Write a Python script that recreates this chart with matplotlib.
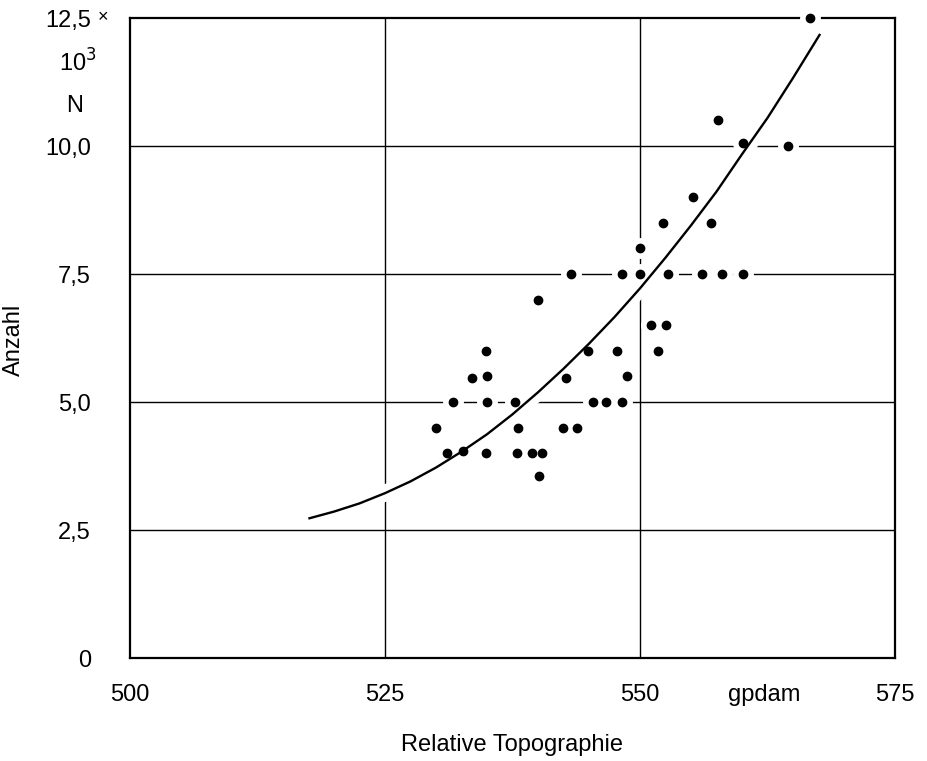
import matplotlib.pyplot as plt

plt.rcParams['font.family'] = ['Liberation Sans Narrow', 'Liberation Sans', 'DejaVu Sans']

# Messpunkte (Relative Topographie in gpdam, Anzahl in 10^3)
topo = [530.0, 531.1, 531.7, 532.6, 533.5, 534.9, 535.0, 535.0, 534.9, 537.7,
        538.0, 537.9, 539.4, 540.0, 540.1, 540.4, 542.7, 542.5, 543.2, 543.8,
        544.9, 545.4, 546.7, 547.7, 548.2, 548.2, 548.7, 550.0, 550.0, 551.1,
        551.8, 552.3, 552.5, 552.7, 555.2, 556.1, 557.0, 557.6, 558.0, 560.1,
        560.1, 564.5, 566.7]
anzahl = [4.5, 4.0, 5.0, 4.05, 5.47, 6.0, 5.5, 5.0, 4.0, 5.0,
          4.5, 4.0, 4.0, 7.0, 3.55, 4.0, 5.47, 4.5, 7.5, 4.5,
          6.0, 5.0, 5.0, 6.0, 7.5, 5.0, 5.5, 8.0, 7.5, 6.5,
          6.0, 8.5, 6.5, 7.5, 9.0, 7.5, 8.5, 10.5, 7.5, 10.05,
          7.5, 10.0, 12.5]

# Ausgleichskurve
kurve_x = [517.6, 520.0, 522.5, 525.0, 527.5, 530.0, 532.5, 535.0, 537.5,
           540.0, 542.5, 545.0, 547.5, 550.0, 552.5, 555.0, 557.5, 560.0,
           562.5, 565.0, 567.6]
kurve_y = [2.73, 2.86, 3.02, 3.22, 3.45, 3.72, 4.03, 4.37, 4.76,
           5.19, 5.65, 6.14, 6.66, 7.22, 7.82, 8.45, 9.11, 9.84,
           10.55, 11.33, 12.17]

xticks = [500, 525, 550, 575]
xlabels = ['500', '525', '550', '575']
yticks = [0, 2.5, 5.0, 7.5, 10.0, 12.5]
ylabels = ['0', '2,5', '5,0', '7,5', '10,0', '12,5']

fig = plt.figure(figsize=(9.27, 7.61), dpi=100)
ax = fig.add_axes([0.1402, 0.1353, 0.8253, 0.8410])
ax.set_xlim(500, 575)
ax.set_ylim(0, 12.5)

# Gitter
for x in [525, 550]:
    ax.axvline(x, color='black', lw=1.0, zorder=1)
for y in [2.5, 5.0, 7.5, 10.0]:
    ax.axhline(y, color='black', lw=1.0, zorder=1)

# weiße Aussparungen um Kurve und Punkte
ax.plot(kurve_x, kurve_y, color='white', lw=12, zorder=2, solid_capstyle='butt')
ax.plot(topo, anzahl, 'o', color='white', ms=14, zorder=2.6, clip_on=False)

ax.plot(kurve_x, kurve_y, color='black', lw=1.7, zorder=3)
ax.plot(topo, anzahl, 'o', color='black', ms=6, zorder=4, clip_on=False)

for s in ax.spines.values():
    s.set_linewidth(1.6)

ax.set_xticks(xticks)
ax.set_xticklabels(xlabels)
ax.set_yticks(yticks)
ax.set_yticklabels(ylabels)
ax.tick_params(length=0, labelsize=17)
ax.tick_params(axis='x', pad=19)
ax.tick_params(axis='y', pad=28)

ax.text(562.2, -0.5, 'gpdam', fontsize=17, ha='center', va='top')
ax.text(-0.035, 1.0, '\u00d7', transform=ax.transAxes, fontsize=13, ha='center', va='center')
ax.text(-0.068, 0.9156, '10$^3$', transform=ax.transAxes, fontsize=17, ha='center', va='baseline')
ax.text(-0.072, 0.862, 'N', transform=ax.transAxes, fontsize=17, ha='center', va='center')

ax.set_xlabel('Relative Topographie', fontsize=17, labelpad=20)
fig.text(14 / 927, 0.553, 'Anzahl', fontsize=17, rotation=90, ha='center', va='center')

fig.savefig('out.png', dpi=100)
